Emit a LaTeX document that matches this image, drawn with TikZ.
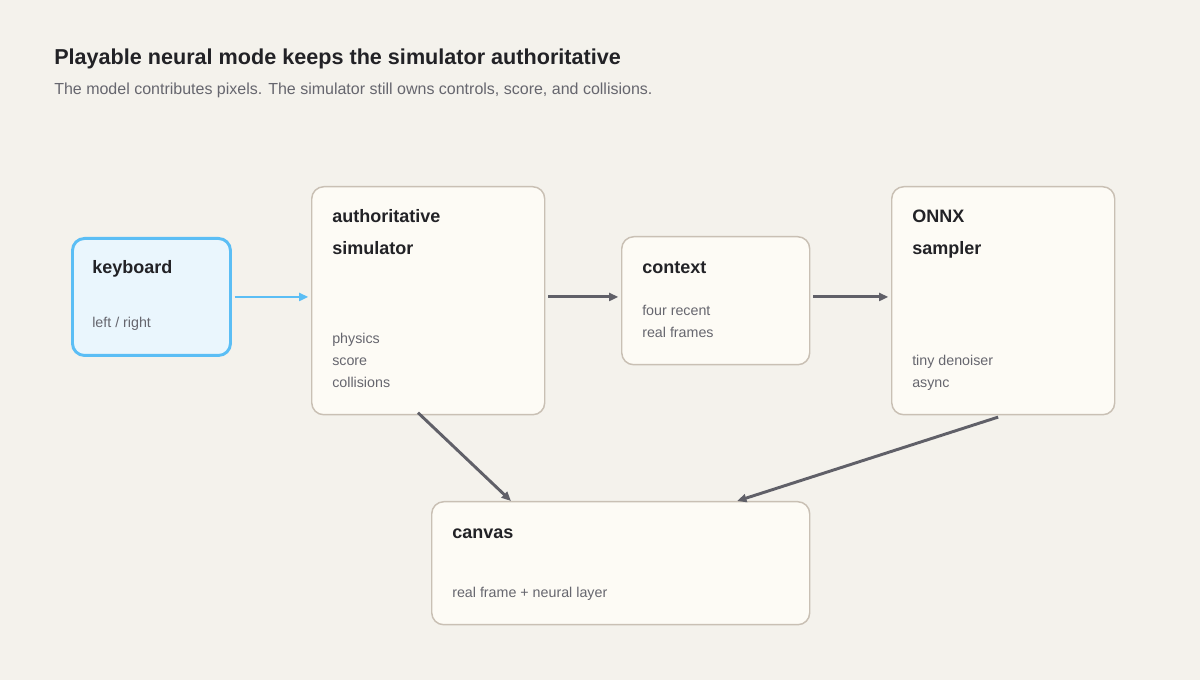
\documentclass[tikz,border=0pt]{standalone}
\usepackage{fontspec}
\setmainfont{Liberation Sans}
\usetikzlibrary{arrows.meta}
\definecolor{bgcol}{HTML}{F4F2EC}
\definecolor{boxfill}{HTML}{FDFBF5}
\definecolor{boxline}{HTML}{C9C0B4}
\definecolor{keyfill}{HTML}{EAF6FD}
\definecolor{keyline}{HTML}{5BBEF5}
\definecolor{inkcol}{HTML}{222226}
\definecolor{mutedcol}{HTML}{66666E}
\definecolor{arrowcol}{HTML}{606068}
\tikzset{
  stage/.style={draw=boxline, fill=boxfill, line width=1.1pt, rounded corners=9pt, anchor=north west, inner sep=0pt},
  stagetitle/.style={anchor=base west, font=\fontsize{13.5}{16}\selectfont\bfseries, text=inkcol, inner sep=0pt},
  stagenote/.style={anchor=base west, font=\fontsize{10.7}{16.5}\selectfont, text=mutedcol, inner sep=0pt, align=left},
  flow/.style={-{Triangle[length=7pt,width=6pt]}, line width=2.2pt, draw=arrowcol},
}
\begin{document}
\begin{tikzpicture}[x=0.75pt, y=-0.75pt]
    \fill[bgcol] (0,0) rectangle (1200,680);
    % Title
    \node[anchor=base west, font=\fontsize{16.2}{19}\selectfont\bfseries, text=inkcol, inner sep=0pt] (title) at (54,65) {Playable neural mode keeps the simulator authoritative};
    \node[anchor=base west, font=\fontsize{12}{14}\selectfont, text=mutedcol, inner sep=0pt] (subtitle) at (54,95) {The model contributes pixels. The simulator still owns controls, score, and collisions.};

    % Boxes
    \node[stage, draw=keyline, fill=keyfill, line width=2.2pt, minimum width=158*0.75pt, minimum height=117*0.75pt] (kb) at (71,237) {};
    \node[stage, minimum width=233*0.75pt, minimum height=228*0.75pt] (sim) at (311,186) {};
    \node[stage, minimum width=188*0.75pt, minimum height=128*0.75pt] (ctx) at (621,236) {};
    \node[stage, minimum width=223*0.75pt, minimum height=228*0.75pt] (onnx) at (891,186) {};
    \node[stage, minimum width=378*0.75pt, minimum height=123*0.75pt] (canvas) at (431,501) {};

    % Box texts
    \node[stagetitle] (kbtitle) at (92,274) {keyboard};
    \node[stagenote] (kbnote) at (92,328) {left / right};
    \node[stagetitle] (simtitle1) at (332,223) {authoritative};
    \node[stagetitle] (simtitle2) at (332,255) {simulator};
    \node[stagenote] (simnote) at (332,388) {physics\\score\\collisions};
    \node[stagetitle] (ctxtitle) at (642,274) {context};
    \node[stagenote] (ctxnote) at (642,338) {four recent\\real frames};
    \node[stagetitle] (onnxtitle1) at (912,223) {ONNX};
    \node[stagetitle] (onnxtitle2) at (912,255) {sampler};
    \node[stagenote] (onnxnote) at (912,388) {tiny denoiser\\async};
    \node[stagetitle] (cvtitle) at (452,539) {canvas};
    \node[stagenote] (cvnote) at (452,598) {real frame + neural layer};

    % Arrows
    \draw[flow, draw=keyline, line width=2pt, shorten <=2pt, shorten >=2pt] (kb.east) -- (kb.east -| sim.west);
    \draw[flow, shorten <=2pt, shorten >=2pt] (sim.east |- kb.east) -- (ctx.west |- kb.east);
    \draw[flow, shorten <=2pt, shorten >=2pt] (ctx.east |- kb.east) -- (onnx.west |- kb.east);
    \draw[flow, shorten <=-3pt] ([xshift=-5.5pt]sim.south) -- ([xshift=60pt]canvas.north west);
    \draw[flow, shorten <=4pt] (onnx.south) -- ([xshift=-55pt]canvas.north east);
\end{tikzpicture}
\end{document}
